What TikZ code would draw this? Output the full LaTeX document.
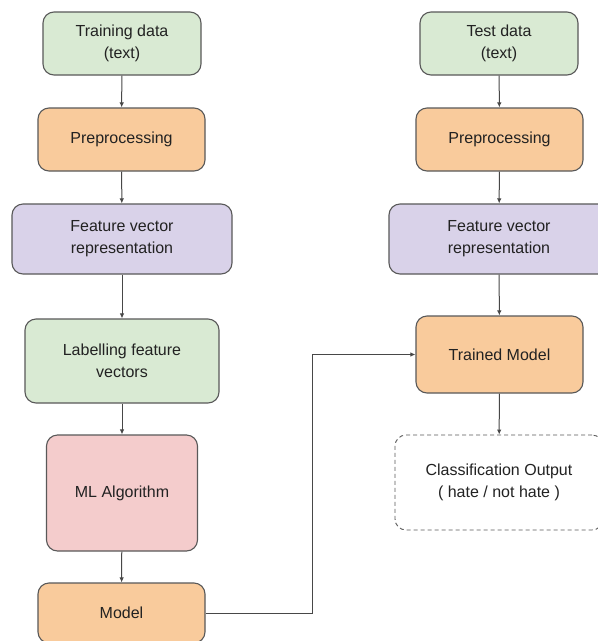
\documentclass[tikz,border=0pt]{standalone}
\usepackage{fontspec}
\setmainfont{Liberation Sans}
\usetikzlibrary{arrows.meta}
\definecolor{gfill}{HTML}{D9EAD3}
\definecolor{ofill}{HTML}{F9CB9C}
\definecolor{pfill}{HTML}{D9D2E9}
\definecolor{rfill}{HTML}{F4CCCC}
\definecolor{edge}{HTML}{595959}
\definecolor{txt}{HTML}{222222}
\tikzset{
  box/.style={draw=edge, line width=1.1pt, rounded corners=11pt, align=center,
    text=txt, font=\fontsize{16}{22}\selectfont, inner sep=0pt},
  arr/.style={draw=edge!80!black, line width=1pt, -{Latex[length=5pt,width=4.5pt]}},
}
\begin{document}
\begin{tikzpicture}[x=1pt,y=-1pt]
\useasboundingbox[fill=white] (0,0) rectangle (598,641);
% left column
\node[box, fill=gfill, minimum width=158pt, minimum height=63pt] (td) at (122,43.5) {Training data\\(text)};
\node[box, fill=ofill, minimum width=167pt, minimum height=63pt] (pp1) at (121.5,139.5) {Preprocessing};
\node[box, fill=pfill, minimum width=220pt, minimum height=70pt] (fv1) at (122,239) {Feature vector\\representation};
\node[box, fill=gfill, minimum width=194pt, minimum height=84pt] (lab) at (122,361) {Labelling feature\\vectors};
\node[box, fill=rfill, minimum width=151pt, minimum height=116pt] (ml) at (122,493) {ML Algorithm};
\node[box, fill=ofill, minimum width=167pt, minimum height=60pt] (model) at (121.5,613) {Model};
% right column
\node[box, fill=gfill, minimum width=158pt, minimum height=63pt] (test) at (499,43.5) {Test data\\(text)};
\node[box, fill=ofill, minimum width=167pt, minimum height=63pt] (pp2) at (499.5,139.5) {Preprocessing};
\node[box, fill=pfill, minimum width=220pt, minimum height=70pt] (fv2) at (499,239) {Feature vector\\representation};
\node[box, fill=ofill, minimum width=167pt, minimum height=77pt] (trained) at (499.5,354.5) {Trained Model};
\node[box, dashed, dash pattern=on 4pt off 3pt, line width=0.9pt, minimum width=208pt, minimum height=95pt] (cls) at (499,482.5) {Classification Output\\( hate / not hate )};
% connectors
\draw[arr] (td) -- (pp1);
\draw[arr] (pp1) -- (fv1);
\draw[arr] (fv1) -- (lab);
\draw[arr] (lab) -- (ml);
\draw[arr] (ml) -- (model);
\draw[arr] (test) -- (pp2);
\draw[arr] (pp2) -- (fv2);
\draw[arr] (fv2) -- (trained);
\draw[arr] (trained) -- (cls);
\coordinate (elbow) at (312,613);
\draw[arr] (model.east) -- (elbow) |- (trained.west);
\end{tikzpicture}
\end{document}
